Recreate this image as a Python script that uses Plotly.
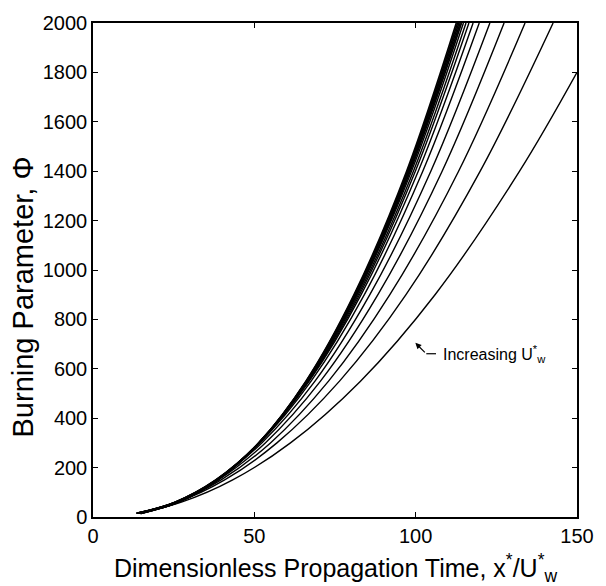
import plotly.graph_objects as go

# Burning parameter levels (Phi) at which each curve's time was read
phi_levels = [15, 60, 150, 300, 550, 900, 1400, 2000]

# Dimensionless propagation time for each curve at the Phi levels above
t_curve_01 = [14.9, 26.4, 38.6, 51.4, 66.0, 80.9, 97.2, 112.6]
t_curve_02 = [14.8, 26.4, 38.6, 51.4, 66.1, 81.1, 97.5, 113.0]
t_curve_03 = [14.8, 26.3, 38.5, 51.4, 66.2, 81.3, 97.7, 113.4]
t_curve_04 = [14.7, 26.2, 38.5, 51.5, 66.3, 81.5, 98.0, 113.8]
t_curve_05 = [14.6, 26.2, 38.5, 51.5, 66.4, 81.7, 98.3, 114.2]
t_curve_06 = [14.4, 26.0, 38.3, 51.4, 66.4, 81.8, 98.7, 114.8]
t_curve_07 = [14.3, 25.8, 38.2, 51.4, 66.6, 82.2, 99.3, 115.6]
t_curve_08 = [14.1, 25.7, 38.1, 51.4, 66.8, 82.6, 99.9, 116.5]
t_curve_09 = [13.9, 25.5, 38.0, 51.5, 67.0, 83.1, 100.8, 117.8]
t_curve_10 = [13.7, 25.4, 38.1, 51.7, 67.6, 84.1, 102.2, 119.7]
t_curve_11 = [13.6, 25.4, 38.3, 52.3, 68.8, 85.8, 104.7, 123.0]
t_curve_12 = [13.5, 25.5, 38.8, 53.4, 70.5, 88.3, 108.2, 127.4]
t_curve_13 = [13.5, 25.8, 39.7, 55.0, 73.0, 92.0, 113.3, 133.9]
t_curve_14 = [13.4, 26.2, 40.8, 57.0, 76.4, 97.0, 120.0, 142.6]

# Lowest curve leaves the plot through the right edge
t_curve_15 = [13.7, 27.4, 43.3, 61.2, 82.9, 106.0, 132.2, 150.0]
phi_curve_15 = [15, 60, 150, 300, 550, 900, 1400, 1800]

curves = [
    (t_curve_01, phi_levels), (t_curve_02, phi_levels), (t_curve_03, phi_levels),
    (t_curve_04, phi_levels), (t_curve_05, phi_levels), (t_curve_06, phi_levels),
    (t_curve_07, phi_levels), (t_curve_08, phi_levels), (t_curve_09, phi_levels),
    (t_curve_10, phi_levels), (t_curve_11, phi_levels), (t_curve_12, phi_levels),
    (t_curve_13, phi_levels), (t_curve_14, phi_levels), (t_curve_15, phi_curve_15),
]

x_ticks = [0, 50, 100, 150]
y_ticks = [0, 200, 400, 600, 800, 1000, 1200, 1400, 1600, 1800, 2000]

FONT = "Liberation Sans, Arial, Helvetica, sans-serif"

fig = go.Figure()
for i, (tx, py) in enumerate(curves):
    fig.add_trace(go.Scatter(
        x=tx, y=py, mode="lines",
        line=dict(color="black", width=1.7 if i < 5 else 1.4,
                  shape="spline", smoothing=1.0),
        showlegend=False, hoverinfo="skip",
    ))

axis_common = dict(
    showgrid=False, zeroline=False, showline=True, linecolor="black",
    linewidth=1.5, mirror="ticks", ticks="inside", ticklen=5,
    tickwidth=1.2, tickcolor="black",
    tickfont=dict(family=FONT, size=20, color="black"),
)

fig.update_layout(
    width=606, height=586,
    margin=dict(l=93, r=28, t=18, b=69),
    paper_bgcolor="white", plot_bgcolor="white",
    font=dict(family=FONT, color="black"),
    xaxis=dict(range=[0, 150], tickvals=x_ticks, **axis_common),
    yaxis=dict(range=[0, 2000], tickvals=y_ticks, **axis_common),
    annotations=[
        # x-axis title
        dict(x=0.5, y=-0.104, xref="paper", yref="paper", xanchor="center", yanchor="middle",
             text="Dimensionless Propagation Time, x<sup>*</sup>/U<sup>*</sup><sub>w</sub>",
             showarrow=False, font=dict(family=FONT, size=25, color="black")),
        # y-axis title
        dict(x=-0.144, y=0.445, xref="paper", yref="paper", xanchor="center", yanchor="middle",
             text="Burning Parameter, Φ", textangle=-90,
             showarrow=False, font=dict(family=FONT, size=29, color="black")),
        # label with arrow
        dict(x=107.9, y=661, xref="x", yref="y", xanchor="left", yanchor="middle",
             text="Increasing U<sup>*</sup><sub>w</sub>", showarrow=False,
             font=dict(family=FONT, size=16, color="black")),
        dict(x=99.9, y=705, xref="x", yref="y", text="", showarrow=True,
             arrowhead=2, arrowsize=1.0, arrowwidth=1.2, arrowcolor="black",
             ax=11, ay=11),
    ],
    shapes=[
        dict(type="line", xref="x", yref="y", x0=103.3, y0=661, x1=106.3, y1=661,
             line=dict(color="black", width=1.2)),
    ],
)

fig.write_html("out.html")
